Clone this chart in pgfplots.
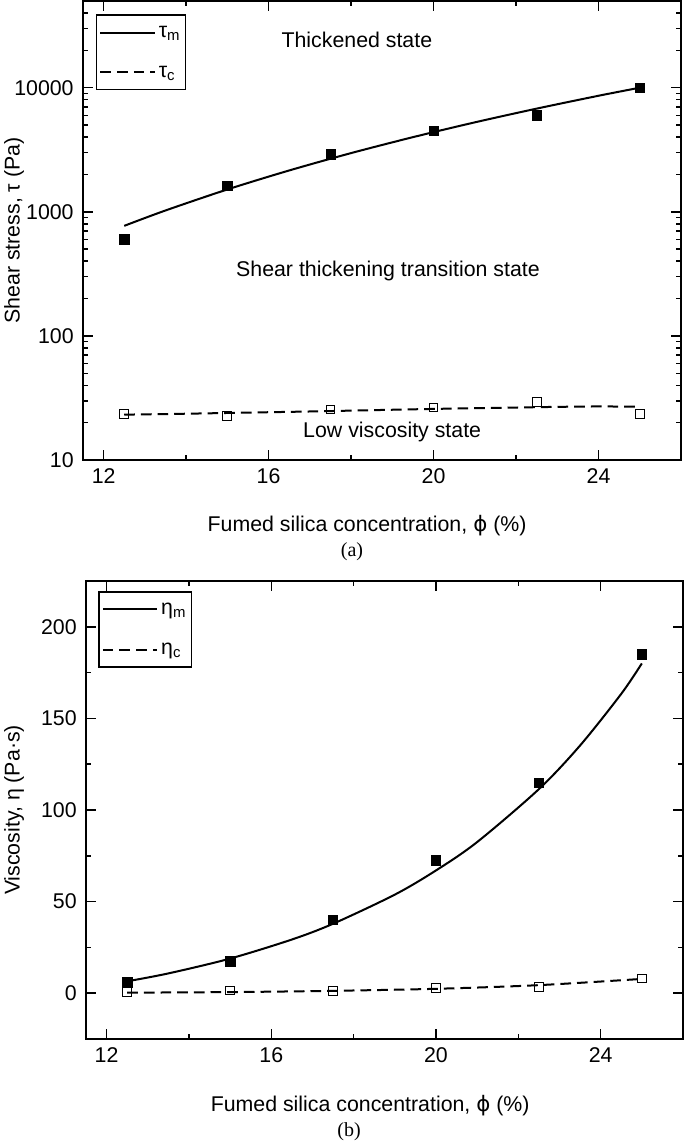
\documentclass[border=0pt]{standalone}
\usepackage{pgfplots}
\pgfplotsset{compat=1.18}
\usepackage{fontspec}
\setmainfont{Liberation Sans}
\newfontfamily\capfont{Liberation Serif}
\newfontfamily\symfont{DejaVu Sans}

\pgfplotsset{
  common/.style={
    scale only axis,
    xmin=11.5, xmax=26,
    xtick={12,16,20,24}, minor xtick={14,18,22},
    tick align=inside,
    axis line style={line width=1.1pt},
    every tick/.style={black, line width=1.1pt},
    major tick length=7.5pt, minor tick length=4pt,
    tick label style={font=\fontsize{16}{19}\selectfont},
    yticklabel style={xshift=-3.5pt},
    xticklabel style={yshift=-3pt},
    label style={font=\fontsize{16}{19}\selectfont},
    /pgf/number format/assume math mode=true,
    legend cell align=left,
    legend style={draw=black, line width=1.1pt, font=\fontsize{16}{19}\selectfont,
      row sep=16pt, inner xsep=2pt, inner ysep=6pt, outer sep=0pt},
    legend image code/.code={\draw[#1] (0pt,0pt) -- (41pt,0pt);},
    clip=false,
  },
  fitline/.style={black, line width=1.5pt, no marks, smooth},
  fitdash/.style={black, line width=1.5pt, no marks, smooth, dash pattern=on 8pt off 4.5pt},
  filled/.style={only marks, mark=square*, mark size=3.5pt, mark options={black, fill=black}},
  open/.style={only marks, mark=square, mark size=3.3pt, mark options={black, line width=0.8pt, fill=white}},
}

\begin{document}
\begin{tikzpicture}
\useasboundingbox (0,0) rectangle (513.75pt,857.25pt);

% ---------------- (a) ----------------
\begin{axis}[common,
  at={(62.25pt,512.25pt)}, anchor=south west,
  width=448.5pt, height=344.25pt,
  ymode=log, ymin=10, ymax=50000,
  ytick={10,100,1000,10000}, yticklabels={10,100,1000,10000},
  minor ytick={20,30,40,50,60,70,80,90,200,300,400,500,600,700,800,900,2000,3000,4000,5000,6000,7000,8000,9000,20000,30000,40000},
  xlabel={Fumed silica concentration, {\symfont ϕ} (\%)},
  ylabel={Shear stress, τ (Pa)},
  xlabel style={at={(axis description cs:0.475,-0.142)}, anchor=center},
  ylabel style={at={(axis description cs:-0.115,0.5)}, anchor=center},
  legend style={at={(0.023,0.969)}, anchor=north west},
]
\addplot[fitline] coordinates {(12.5,771) (13.5,1025) (15,1514) (16.5,2154) (18,2973) (19.5,3996) (21,5258) (22.5,6785) (24,8614) (25,10000)};
\addlegendentry{τ\textsubscript{m}}
\addplot[fitdash] coordinates {(12.5,23.2) (14,23.6) (15.5,24.1) (17,24.6) (18.5,25.2) (20,25.8) (21.5,26.3) (23,26.8) (24,27.0) (25,26.9)};
\addlegendentry{τ\textsubscript{c}}
\addplot[filled, forget plot] coordinates {(12.5,600) (15,1620) (17.5,2900) (20,4500) (22.5,6000) (25,10000)};
\addplot[open, forget plot] coordinates {(12.5,23.5) (15,22.5) (17.5,25.5) (20,26.5) (22.5,29.5) (25,23.5)};
\node[font=\fontsize{16}{19}\selectfont] at (rel axis cs:0.458,0.915) {Thickened state};
\node[font=\fontsize{16}{19}\selectfont] at (rel axis cs:0.51,0.412) {Shear thickening transition state};
\node[font=\fontsize{16}{19}\selectfont] at (rel axis cs:0.517,0.061) {Low viscosity state};
\end{axis}
\node[font=\capfont\fontsize{15}{18}\selectfont] at (264pt,443.25pt) {(a)};

% ---------------- (b) ----------------
\begin{axis}[common,
  at={(64.5pt,78pt)}, anchor=south west,
  width=447.75pt, height=343.5pt,
  ymin=-25, ymax=225,
  ytick={0,50,100,150,200}, minor ytick={25,75,125,175},
  xlabel={Fumed silica concentration, {\symfont ϕ} (\%)},
  ylabel={Viscosity, η (Pa·s)},
  xlabel style={at={(axis description cs:0.476,-0.146)}, anchor=center},
  ylabel style={at={(axis description cs:-0.1206,0.5)}, anchor=center},
  legend style={at={(0.022,0.976)}, anchor=north west},
]
\addplot[fitline] coordinates {(12.5,6.5) (13.5,10.8) (15,18.9) (16.5,29.3) (17.5,37.9) (19,53.8) (20,67) (21,82.5) (22.5,111.4) (23.5,135.2) (24.5,163.4) (25,180)};
\addlegendentry{η\textsubscript{m}}
\addplot[fitdash] coordinates {(12.5,0.3) (15,0.6) (17.5,1.3) (20,2.4) (22.5,4.4) (25,7.8)};
\addlegendentry{η\textsubscript{c}}
\addplot[open, forget plot] coordinates {(12.5,0.5) (15,1.5) (17.5,1.3) (20,3) (22.5,3.5) (25,8)};
\addplot[filled, forget plot] coordinates {(12.5,6) (15,17.5) (17.5,40) (20,72.5) (22.5,115) (25,185)};
\end{axis}
\node[font=\capfont\fontsize{15}{18}\selectfont] at (261.75pt,8.25pt) {(b)};
\end{tikzpicture}
\end{document}
